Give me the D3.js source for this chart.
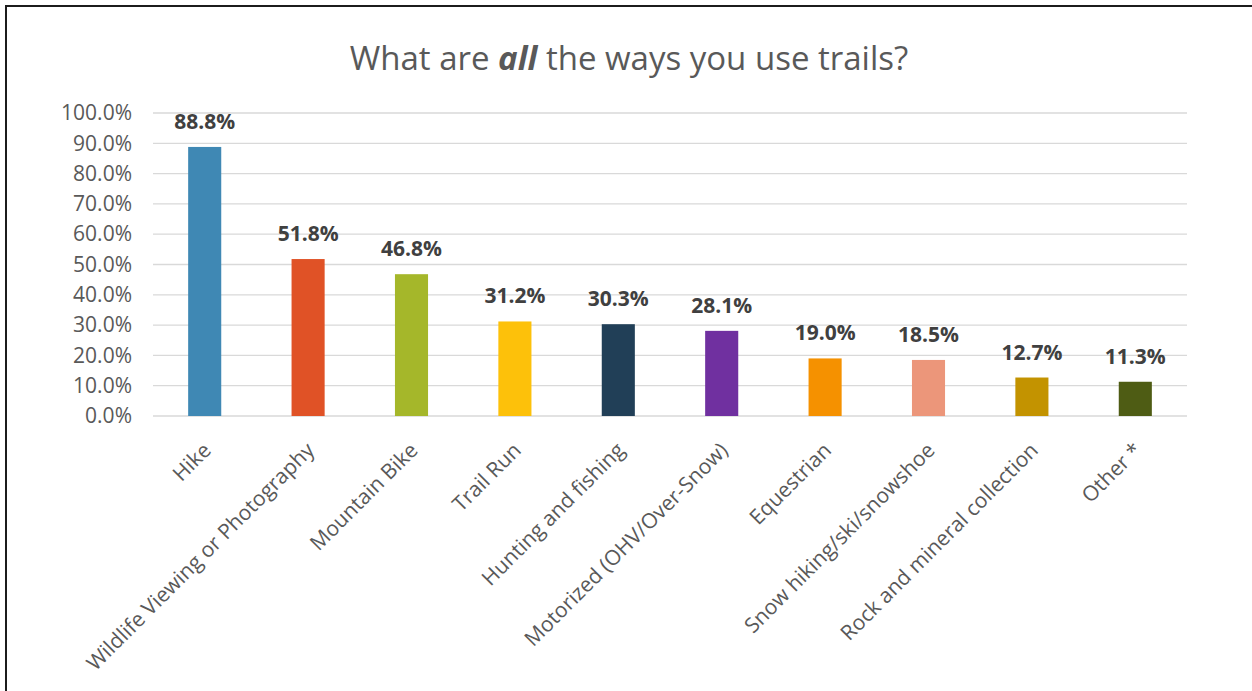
<!DOCTYPE html>
<html>
<head>
<meta charset="utf-8">
<script src="https://cdn.jsdelivr.net/npm/d3@7"></script>
<style>
  body { margin: 0; background: #fff; }
  svg { display: block; font-family: "Open Sans", "Liberation Sans", sans-serif; }
</style>
</head>
<body>
<div id="visualization"></div>
<script>
// values
var categories = ["Hike", "Wildlife Viewing or Photography", "Mountain Bike", "Trail Run",
  "Hunting and fishing", "Motorized (OHV/Over-Snow)", "Equestrian",
  "Snow hiking/ski/snowshoe", "Rock and mineral collection", "Other *"];
var values = [88.8, 51.8, 46.8, 31.2, 30.3, 28.1, 19.0, 18.5, 12.7, 11.3];
var colors = ["#3f88b4", "#e05226", "#a5b72a", "#fdc10a", "#213f57",
  "#7030a0", "#f59100", "#ec967a", "#c39300", "#4e5c14"];
var yTicks = [0, 10, 20, 30, 40, 50, 60, 70, 80, 90, 100];

var width = 1252, height = 691;
var margin = {top: 113, right: 65, bottom: 275, left: 153};

var svg = d3.select("#visualization").append("svg")
  .attr("width", width)
  .attr("height", height);

// frame (only top and left visible in the crop)
svg.append("path")
  .attr("d", "M6,691 V6 H1252")
  .attr("fill", "none")
  .attr("stroke", "#1c1c1c")
  .attr("stroke-width", 2);

// title, with the bold italic "all"
var title = svg.append("text")
  .attr("x", 629)
  .attr("y", 70)
  .attr("text-anchor", "middle")
  .style("font-size", "33px")
  .style("fill", "#595959");
title.append("tspan").text("What are ");
title.append("tspan").text("all").style("font-weight", "bold").style("font-style", "italic");
title.append("tspan").text(" the ways you use trails?");

var x = d3.scaleBand()
  .domain(categories)
  .range([margin.left, width - margin.right])
  .paddingInner(0.68)
  .paddingOuter(0.34);

var y = d3.scaleLinear()
  .domain([0, 100])
  .range([height - margin.bottom, margin.top]);

// gridlines
svg.append("g")
  .selectAll("line")
  .data(yTicks)
  .enter()
  .append("line")
    .attr("x1", margin.left)
    .attr("x2", width - margin.right)
    .attr("y1", function (d) { return y(d); })
    .attr("y2", function (d) { return y(d); })
    .attr("stroke", "#d9d9d9")
    .attr("stroke-width", 1.3);

// y axis labels
var yAxis = svg.append("g")
  .attr("transform", "translate(" + (margin.left - 21) + ",0)")
  .call(d3.axisLeft(y).tickValues(yTicks).tickSize(0).tickPadding(0)
    .tickFormat(function (d) { return d.toFixed(1) + "%"; }));
yAxis.select(".domain").remove();
yAxis.selectAll("text")
  .style("font-family", "\"Open Sans\", sans-serif")
  .style("font-size", "21px")
  .style("fill", "#595959");

// bars
svg.append("g")
  .selectAll("rect")
  .data(values)
  .enter()
  .append("rect")
    .attr("x", function (d, i) { return x(categories[i]); })
    .attr("y", function (d) { return y(d); })
    .attr("width", x.bandwidth())
    .attr("height", function (d) { return y(0) - y(d); })
    .attr("fill", function (d, i) { return colors[i]; });

// value labels
svg.append("g")
  .selectAll("text")
  .data(values)
  .enter()
  .append("text")
    .attr("x", function (d, i) { return x(categories[i]) + x.bandwidth() / 2; })
    .attr("y", function (d) { return y(d) - 18; })
    .attr("text-anchor", "middle")
    .style("font-size", "21px")
    .style("font-weight", "bold")
    .style("fill", "#404040")
    .text(function (d) { return d.toFixed(1) + "%"; });

// category labels, rotated
svg.append("g")
  .selectAll("text")
  .data(categories)
  .enter()
  .append("text")
    .attr("transform", function (d) {
      return "translate(" + (x(d) + x.bandwidth() / 2 - 3) + ",441) rotate(-45)";
    })
    .attr("text-anchor", "end")
    .attr("dy", "0.71em")
    .style("font-size", "21px")
    .style("fill", "#595959")
    .text(function (d) { return d; });
</script>
</body>
</html>
